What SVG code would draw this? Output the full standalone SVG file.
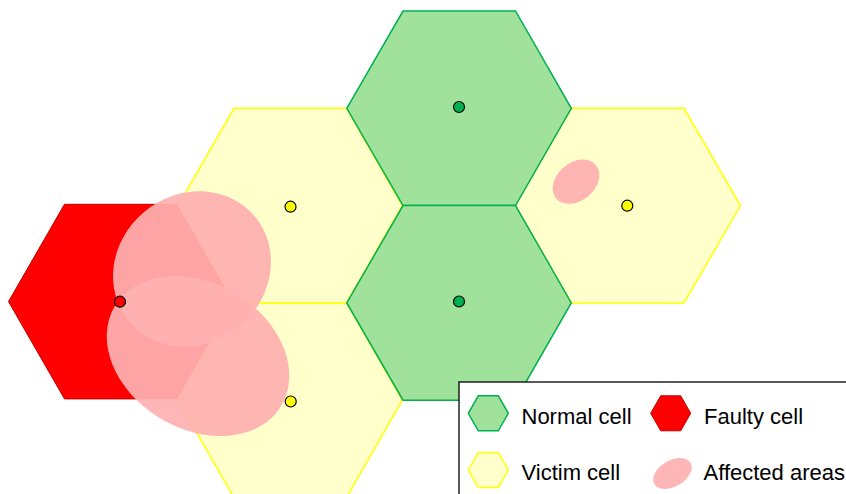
<svg xmlns="http://www.w3.org/2000/svg" width="846" height="494" viewBox="0 0 846 494">
<style>
.victim{fill:#ffffcc;stroke:#ffff00;stroke-width:1.5}
.normal{fill:#a0e29b;stroke:#00b050;stroke-width:1.5}
.faulty{fill:#ff0000;stroke:#c00000;stroke-width:1}
.area{fill:#ffb0b0;fill-opacity:0.93}
.dot{stroke:#000;stroke-width:1.2}
.lbl{font-family:"Liberation Sans",Arial,sans-serif;font-size:22px;fill:#000}
</style>
<rect width="846" height="494" fill="#fff"/>
<g id="victim-ul"><polygon class="victim" points="178,205.6 234,108.3 346.5,108.3 402.3,205.6 346.5,302.9 234,302.9"/></g>
<g id="victim-ll"><polygon class="victim" points="178,400.2 234,302.9 346.5,302.9 402.3,400.2 346.5,497.5 234,497.5"/></g>
<g id="victim-r"><polygon class="victim" points="515,205.6 571.3,108.3 684,108.3 740.5,205.6 684,302.9 571.3,302.9"/></g>
<g id="normal-top"><polygon class="normal" points="346.8,108.3 403,11 515.5,11 571.3,108.3 515.5,205.6 403,205.6"/></g>
<g id="normal-bottom"><polygon class="normal" points="346.8,302.9 403,205.6 515.5,205.6 571.3,302.9 515.5,400.2 403,400.2"/></g>
<g id="faulty"><polygon class="faulty" points="8.5,301.6 64.5,204.3 176.5,204.3 232.5,301.6 176.5,398.9 64.5,398.9"/></g>
<g id="affected-areas">
<ellipse class="area" cx="192" cy="269" rx="82" ry="74.5" transform="rotate(-40 192 269)"/>
<ellipse class="area" cx="198" cy="356" rx="97" ry="73" transform="rotate(31 198 356)"/>
<ellipse class="area" cx="576" cy="181.7" rx="26" ry="19" transform="rotate(-40 576 181.7)"/>
</g>
<g id="centers">
<circle class="dot" cx="120" cy="301.7" r="5.5" fill="#ff0000"/>
<circle class="dot" cx="290.5" cy="206.7" r="5.5" fill="#ffff00"/>
<circle class="dot" cx="290.7" cy="401.5" r="5.5" fill="#ffff00"/>
<circle class="dot" cx="627.3" cy="205.7" r="5.5" fill="#ffff00"/>
<circle class="dot" cx="459" cy="107" r="5.5" fill="#00b050"/>
<circle class="dot" cx="459" cy="301.5" r="5.5" fill="#00b050"/>
</g>
<g id="legend">
<rect x="459" y="382" width="400" height="130" fill="#fff" stroke="#000" stroke-width="1.3"/>
<polygon class="normal" points="468.3,413.3 478.3,395.8 498.3,395.8 508.3,413.3 498.3,430.8 478.3,430.8"/>
<text class="lbl" x="521.5" y="424">Normal cell</text>
<polygon class="faulty" points="650.7,413.3 660.7,395.8 680.7,395.8 690.7,413.3 680.7,430.8 660.7,430.8"/>
<text class="lbl" x="704" y="424">Faulty cell</text>
<polygon class="victim" points="468.3,470 478.3,452.5 498.3,452.5 508.3,470 498.3,487.5 478.3,487.5"/>
<text class="lbl" x="521.5" y="480">Victim cell</text>
<ellipse class="area" cx="672.5" cy="473.5" rx="21" ry="13" transform="rotate(-30 672.5 473.5)"/>
<text class="lbl" x="703.5" y="480">Affected areas</text>
</g>
</svg>
